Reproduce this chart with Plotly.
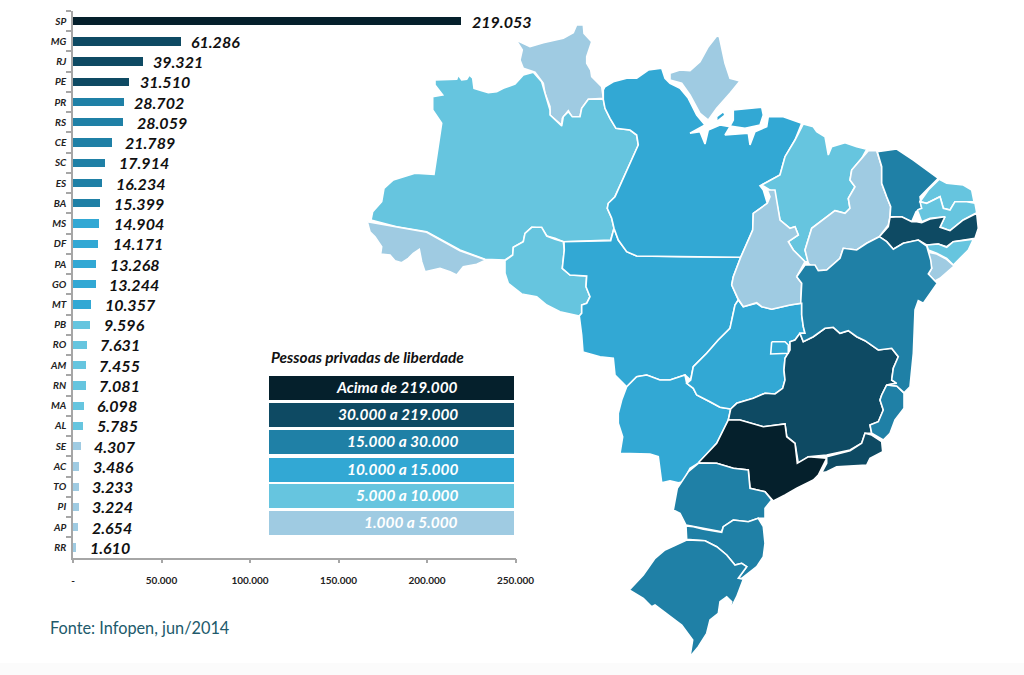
import plotly.graph_objects as go

# ---------- bar chart data ----------
STATES = ["SP","MG","RJ","PE","PR","RS","CE","SC","ES","BA","MS","DF","PA","GO","MT","PB","RO","AM","RN","MA","AL","SE","AC","TO","PI","AP","RR"]
PRISONERS = [219053,61286,39321,31510,28702,28059,21789,17914,16234,15399,14904,14171,13268,13244,10357,9596,7631,7455,7081,6098,5785,4307,3486,3233,3224,2654,1610]
X_TICKS = [0,50000,100000,150000,200000,250000]
X_TICK_TEXT = ["-","50.000","100.000","150.000","200.000","250.000"]

# ---------- legend ----------
LEGEND_TITLE = "Pessoas privadas de liberdade"
LEGEND_LABELS = ["Acima de 219.000","30.000 a 219.000","15.000 a 30.000","10.000 a 15.000","5.000 a 10.000","1.000 a 5.000"]
CLASS_COLORS = ["#05202c","#0e4a63","#1f80a6","#32a8d4","#66c5df","#9fcbe2"]
CLASS_FLOORS = [219000,30000,15000,10000,5000,0]
SOURCE = "Fonte: Infopen, jun/2014"

# ---------- map outlines (map units on a hidden axis) ----------
OUTLINES = {
"RR":[[(516,40),(523.3,43.3),(530,46.7),(543.3,42.7),(563.3,38.3),(573.3,32.7),(576.7,24.7),(583.3,25),(584,33.3),(591.7,41.7),(586.7,56.7),(586.7,63.3),(590.7,70),(591.7,76.7),(601.7,86.7),(603.3,98.3),(588.3,99.3),(581.7,108.3),(580,116.7),(571.7,116.7),(568.3,110.7),(562.3,118.3),(561.7,125),(550,115),(550,106.7),(545,93.3),(543.3,83.3),(535,72.3),(523.3,68.3),(520,60),(522.3,50)]],
"AM":[[(435,80),(456.7,79.3),(458.3,75),(461.7,80),(466.7,79.3),(469.3,75),(472.7,78.3),(474,88.3),(481.7,90.7),(488.3,92.7),(496.7,91.7),(503.3,88.3),(515,84),(523.3,75),(533.3,72.3),(541.7,81.7),(545,93.3),(550,110),(550,115),(561.7,126),(563.3,116.7),(568.3,111.7),(572.3,116.7),(580,116.7),(581.7,108.3),(588.3,99.3),(603.3,99.3),(605,108.3),(610,118.3),(616,128.3),(630,130),(636.7,135),(638.3,145),(633.3,156.7),(623.3,178.3),(615,196.7),(608.3,203.3),(607.3,208.3),(611.7,218.3),(614,228.3),(610.7,240),(563.3,241.7),(555,238.3),(546.7,236),(541.7,228.3),(531.7,227.3),(525,233.3),(523.3,241.7),(513.3,247.3),(512.7,255),(505,260),(485,259.3),(460,250),(426.7,231.7),(396.7,226.7),(371,220),(372.7,211.7),(381.7,201.7),(384,188.3),(393.3,180),(415,173.3),(434,174.3),(441.7,123.3),(432.7,110),(432.7,96.7),(442.7,95),(435,85)]],
"AC":[[(367.3,221.7),(396.7,227.3),(426.7,232.3),(460,250.7),(486,260),(476.7,264.3),(463.3,266.7),(456.7,275),(450,271.7),(440,268.3),(425,271.7),(421.7,261.7),(419.3,249.3),(413.3,253.3),(408.3,258.3),(401.7,262.7),(395,260.7),(390,255),(380.7,254),(381.7,246.7),(375,236.7),(370,231.7)]],
"RO":[[(505,260.7),(512.7,255),(513.3,247.3),(523.3,241.7),(525,233.3),(531.7,227.3),(541.7,227.3),(546.7,236),(555,239.3),(563.3,241.7),(564.3,250),(562.3,268.3),(570,275),(586.7,276),(586,286.7),(590,296.7),(586.7,303.3),(581.7,305),(581.7,313.3),(579.3,316),(560,311.7),(546.7,305),(536.7,296.7),(521.7,294),(508.3,283.3),(505,273.3)]],
"MT":[[(564,241.7),(610.7,240.7),(614,228.3),(618.3,240),(626.7,251.7),(636.7,256),(680,256.7),(740.7,257.3),(733.3,276.7),(731.7,285),(738.3,300),(735,305),(730,328.3),(718.3,340),(706.7,353.3),(693.3,366.7),(690.7,380),(685,375),(681.7,376),(670,380),(660,380),(646.7,375),(636.7,376.7),(626.7,386.7),(615,375),(613.3,358.3),(600,356.7),(583,352),(581.7,335),(579.3,316),(581.7,313.3),(581.7,305),(586.7,303.3),(590,296.7),(586,286.7),(586.7,276),(570,275),(562.3,268.3),(564.3,250)]],
"MS":[[(626.7,386.7),(636.7,376.7),(646.7,375),(660,380),(670,380),(681.7,376),(685,375),(686.7,383.3),(693.3,388.3),(696.7,395),(710,401.7),(720,407.3),(730.7,409),(728.3,420),(716.7,443.3),(698.3,463.3),(690,468.3),(683.3,481.7),(678.3,482.7),(670,480.7),(661.7,482.7),(658.3,456.7),(650,454),(620,453.3),(622.7,436.7),(618.3,423.3),(618.3,413.3),(621.7,400)]],
"GO":[[(738.3,300),(743.3,306.7),(756.7,303.3),(761.7,306.7),(771.7,309.3),(790,305),(801.7,303.3),(801.7,315),(803.3,326.7),(805,333.3),(800,333.3),(795,340),(790,341.7),(790,350),(785,358.3),(784,370),(785,380),(782.7,388.3),(775,394),(765,393.3),(753.3,398.3),(736.7,403.3),(730.7,409),(720,407.3),(710,401.7),(696.7,395),(693.3,388.3),(686.7,383.3),(690.7,380),(693.3,366.7),(706.7,353.3),(718.3,340),(730,328.3),(735,305)]],
"MG":[[(730.7,409),(736.7,403.3),(753.3,398.3),(765,393.3),(775,394),(782.7,388.3),(785,380),(784,370),(785,358.3),(790,350),(790,341.7),(795,340),(800,333.3),(803.3,341.7),(813.3,336.7),(825,328.3),(833.3,327.3),(840,333.3),(848.3,330.7),(856.7,336.7),(865,340.7),(878.3,350),(891.7,348.3),(898.3,356.7),(893.3,368.3),(891.7,380),(896.7,383.3),(886.7,385),(881.7,395),(880,400),(883.3,410),(878.3,421.7),(870,425),(871.7,433.3),(865,433.3),(861.7,443.3),(850,450),(826.7,455),(808.3,456.7),(798.3,463.3),(795,443.3),(786.7,436.7),(785,424),(763.3,426.7),(740,420),(728.3,420)]],
"SP":[[(698.3,462.7),(716.7,443.3),(728.3,420),(740,420),(763.3,426.7),(785,424),(786.7,436.7),(795,443.3),(797.3,463.3),(808.3,456.7),(826.7,458.3),(818.3,475),(813.3,480),(796.7,488.3),(785,495),(773.3,501),(765,491.7),(750,488.3),(748.3,470),(733.3,468.3),(716.7,463.3)]],
"RJ":[[(826.7,456.7),(850,450.7),(861.7,443.3),(865,433.3),(871.7,435),(881.7,441.7),(882.7,451.7),(870,458.3),(866.7,465),(850,465.7),(836.7,466.7),(826.7,471.7),(821.7,472.7),(826.7,463.3)]],
"ES":[[(886.7,385),(896.7,386),(904,393.3),(904,408.3),(895,420),(890,433.3),(883.3,440),(871.7,433.3),(870,425),(878.3,421.7),(883.3,410),(880,400),(881.7,395)]],
"PR":[[(698.3,463.3),(716.7,463.3),(733.3,468.3),(748.3,470),(750,488.3),(765,491.7),(771.7,500),(765,508.3),(765,518.3),(758.3,518.3),(748.3,521.7),(733.3,520),(723.3,526.7),(721.7,531.7),(703.3,528.3),(693.3,526),(686,525),(680,513.3),(673.3,510),(677.3,488.3),(688.3,471.7)]],
"SC":[[(686,526),(693.3,526.7),(703.3,529.3),(721.7,532.3),(723.3,526.7),(733.3,520),(748.3,521.7),(758.3,518.3),(763.3,526.7),(765,543.3),(763.3,556.7),(756.7,566.7),(741.7,578.3),(738.3,578.3),(746.7,566.7),(741.7,563.3),(735,565),(726.7,555),(716.7,546.7),(705,540.7),(686.7,539.3)]],
"RS":[[(686.7,540),(705,540.7),(716.7,546.7),(726.7,555),(735,565),(741.7,563.3),(746.7,566.7),(738.3,578.3),(743.3,579.3),(736.7,596.7),(728.3,613.3),(731.7,601.7),(726.7,596.7),(720,601.7),(718.3,613.3),(710,620),(706.7,633.3),(698.3,646.7),(690,656.7),(692.7,640),(681.7,625),(666.7,613.3),(655,605),(651.7,606.7),(643.3,598.3),(629.3,590),(643.3,575),(655,558.3),(665,550)]],
"PA":[[(605,86.7),(613.3,81.7),(626.7,78.3),(636.7,78.3),(648.3,70),(661.7,68.3),(665,78.3),(670,83.3),(680,88.3),(688.3,98.3),(696.7,115),(705,125),(690,133.3),(700,131.7),(705,144),(708.3,130),(720,125),(730,126.7),(725,135),(748.3,133.3),(750,145),(755,131.7),(766.7,126.7),(768.3,116.7),(783.3,116.7),(793.3,120),(801.7,123.3),(795,140),(785,156.7),(780,175),(760,185.7),(763.3,190),(767.3,203.3),(753.3,213.3),(752.7,230),(740.7,257.3),(680,256.7),(636.7,256),(626.7,251.7),(618.3,240),(614,228.3),(611.7,218.3),(607.3,208.3),(608.3,203.3),(615,196.7),(623.3,178.3),(633.3,156.7),(638.3,145),(636.7,135),(630,130),(616,128.3),(610,118.3),(605,108.3),(603.3,99.3),(603.3,90)],
      [(733.3,110),(761.7,107.3),(763.3,115),(760,125),(745,128.3),(730,126),(733.3,120)],
      [(716.7,116.7),(723.3,111.7),(725,115),(716.7,121.7)]],
"AP":[[(670,73.3),(680,70),(690,70.7),(700,61.7),(708.3,46.7),(716.7,36),(719.3,36.7),(725,63.3),(730,78.3),(740,81),(730,93.3),(716.7,108.3),(708.3,120),(700,113.3),(690,95),(681.7,83.3),(670,80)]],
"MA":[[(803.3,124),(813.3,126.7),(816.7,131.7),(825,136.7),(828.3,155),(831.7,146.7),(845,142.7),(856.7,146.7),(866.7,149.3),(861.7,158.3),(851.7,170),(850,180),(855,186.7),(848.3,198.3),(850,208.3),(845,213.3),(835,210.7),(811.7,228.3),(805,250),(808.3,261.7),(805,261.7),(793.3,250),(788.3,241.7),(798.3,235),(795,226.7),(790,228.3),(780,220),(776.7,203.3),(770,190),(761.7,185),(780,175),(785,156.7),(795,140)]],
"TO":[[(767.3,190),(775,190),(780,220),(790,228.3),(795,226.7),(798.3,235),(788.3,241.7),(793.3,250),(805,261.7),(796.7,276.7),(801.7,283.3),(800.7,303.3),(790,305),(771.7,309.3),(761.7,306.7),(756.7,302.7),(743.3,306.7),(738.3,299.3),(731.7,285),(733.3,276.7),(740.7,257.3),(752.7,230),(753.3,213.3),(767.3,203.3),(770,196.7)]],
"PI":[[(868.3,150.7),(876.7,150.7),(881.7,166.7),(881.7,183.3),(886.7,196.7),(890.7,206.7),(890,216.7),(888.3,225),(879.3,236.7),(866.7,243.3),(856.7,250),(843.3,248.3),(840,258.3),(826.7,270),(816.7,270.7),(808.3,263.3),(805,250),(811.7,228.3),(835,210.7),(845,213.3),(850,208.3),(848.3,198.3),(855,186.7),(850,180),(851.7,170),(861.7,158.3)]],
"CE":[[(877.3,151.7),(896.7,149),(913.3,160),(938.3,178.3),(928.3,188.3),(920,196.7),(921.7,208.3),(916,211.7),(911.7,221.7),(901.7,216.7),(890,216.7),(890.7,206.7),(886.7,196.7),(881.7,183.3),(881.7,166.7)]],
"RN":[[(939.3,179.3),(946.7,183.3),(963.3,185),(971.7,190),(974,201.7),(966.7,201.7),(955,201.7),(950,210),(943.3,208.3),(940,196.7),(930,201.7),(926.7,203.3),(920,201.7),(928.3,190)]],
"PB":[[(917.3,210),(921.7,208.3),(920,201.7),(926.7,203.3),(930,201.7),(940,196.7),(943.3,208.3),(950,210),(955,201.7),(966.7,201.7),(975,203.3),(976.7,212.7),(963.3,220),(950,230.7),(940,226.7),(945,216.7),(930,218.3),(921.7,221.7)]],
"PE":[[(879.3,236.7),(888.3,226.7),(890,217.3),(901.7,216.7),(911.7,221.7),(916.7,221.7),(921.7,222.7),(930,219),(945,216.7),(940,227.3),(950,230.7),(963.3,220),(976.7,213.3),(978.3,228.3),(975,238.3),(963.3,240),(953.3,241.7),(946.7,246.7),(938.3,244),(926.7,245),(918.3,240),(903.3,243.3),(893.3,249.3),(886.7,241.7)]],
"AL":[[(926.7,245),(938.3,244),(946.7,247.3),(953.3,241.7),(973.3,239.3),(968.3,250),(953.3,265),(946.7,258.3),(936.7,253.3),(928.3,250)]],
"SE":[[(928.3,252.3),(936.7,254),(946.7,259.3),(954,266),(940,278.3),(935,281),(928.3,274),(931.7,268.3),(930,260)]],
"BA":[[(796.7,276.7),(805,265),(815,265),(818.3,270.7),(826.7,270),(840,258.3),(843.3,248.3),(856.7,250),(866.7,243.3),(879.3,236.7),(886.7,241.7),(893.3,249.3),(903.3,243.3),(918.3,240),(926.7,246),(928.3,251.7),(930.7,260),(931.7,268.3),(928.3,274),(935,281),(937.3,283.3),(923.3,303.3),(918.3,300.7),(915,310),(913.3,353.3),(910,386.7),(904,392.7),(896.7,386),(886.7,385),(896.7,383.3),(891.7,380),(893.3,368.3),(898.3,356.7),(891.7,348.3),(878.3,350),(865,340.7),(856.7,336.7),(848.3,330.7),(840,333.3),(833.3,327.3),(825,328.3),(813.3,336.7),(803.3,341.7),(800,333.3),(805,333.3),(803.3,326.7),(801.7,315),(801.7,303.3),(800.7,303.3),(801.7,283.3)]],
"DF":[[(771.7,341.7),(785,341.7),(788.3,345),(788.3,353.3),(770.7,354)]],
}

# ---------- small per-label nudges (pixels) as in the original artwork ----------
LABEL_SHIFT = [9,8,8,9,8,12,11,12,12,12,13,13,12,11,12,12,11,11,11,11,12,11,12,11,11,12,12]


def class_color(v):
    for floor, col in zip(CLASS_FLOORS, CLASS_COLORS):
        if v >= floor:
            return col
    return CLASS_COLORS[-1]


def fmt(v):
    return f"{v:,}".replace(",", ".")


W, H = 1024, 675
AXIS_L, AXIS_R, AXIS_T, AXIS_B = 73, 515.5, 11, 557.5
FONT = "Lato"
VALUE = dict(zip(STATES, PRISONERS))

fig = go.Figure()

fig.add_trace(go.Bar(
    y=STATES, x=PRISONERS, orientation="h",
    marker=dict(color=[class_color(v) for v in PRISONERS], line_width=0),
    width=0.41, xaxis="x", yaxis="y", hoverinfo="skip", showlegend=False,
))

# choropleth drawn from the outlines, coloured by each state's value
for uf, parts in OUTLINES.items():
    xs, ys = [], []
    for part in parts:
        xs += [p[0] for p in part] + [part[0][0], None]
        ys += [p[1] for p in part] + [part[0][1], None]
    fig.add_trace(go.Scatter(
        x=xs, y=ys, mode="lines", fill="toself", fillcolor=class_color(VALUE[uf]),
        line=dict(color="#ffffff", width=1.6), xaxis="x2", yaxis="y2",
        hoverinfo="skip", showlegend=False, name=uf,
    ))

annotations = []
for uf, v, dx in zip(STATES, PRISONERS, LABEL_SHIFT):
    annotations.append(dict(
        x=v, y=uf, xref="x", yref="y", text=fmt(v), showarrow=False,
        xanchor="left", yanchor="middle", xshift=dx, yshift=0,
        font=dict(family=FONT, size=16, color="#111111", style="italic", weight=700),
    ))

LEG_TOPS = [376, 403, 430, 458, 484, 511]
LEG_H = 24
shapes = [dict(type="rect", xref="paper", yref="paper", x0=0, x1=1, y0=0, y1=1 - 663 / H,
               fillcolor="#fbfbfb", line_width=0, layer="below")]
for top, label, col in zip(LEG_TOPS, LEGEND_LABELS, CLASS_COLORS):
    shapes.append(dict(type="rect", xref="x2", yref="y2", x0=269, x1=514, y0=top, y1=top + LEG_H,
                       fillcolor=col, line_width=0, layer="above"))
    annotations.append(dict(
        x=459.5, y=top + LEG_H / 2 - 1, xref="x2", yref="y2", text=label, showarrow=False,
        xanchor="right", yanchor="middle",
        font=dict(family=FONT, size=15.4, color="#ffffff", style="italic", weight=700),
    ))

annotations.append(dict(
    x=269, y=357, xref="x2", yref="y2", text=LEGEND_TITLE, showarrow=False,
    xanchor="left", yanchor="middle",
    font=dict(family=FONT, size=15.4, color="#111111", style="italic", weight=700),
))
annotations.append(dict(
    x=48, y=627, xref="x2", yref="y2", text=SOURCE, showarrow=False,
    xanchor="left", yanchor="middle",
    font=dict(family=FONT, size=16.3, color="#215a6b"),
))

fig.update_layout(
    width=W, height=H, margin=dict(l=0, r=0, t=0, b=0, autoexpand=False),
    paper_bgcolor="#ffffff", plot_bgcolor="rgba(0,0,0,0)",
    showlegend=False, bargap=0, annotations=annotations, shapes=shapes,
    font=dict(family=FONT),
    xaxis=dict(
        domain=[AXIS_L / W, AXIS_R / W], range=[0, 250000], anchor="y",
        tickmode="array", tickvals=X_TICKS, ticktext=X_TICK_TEXT,
        showgrid=False, zeroline=False, showline=True, linecolor="#a6a6a6", linewidth=1.5,
        ticks="outside", ticklen=4, tickcolor="#a6a6a6", tickwidth=1.5, ticklabelstandoff=9,
        tickfont=dict(family=FONT, size=10, color="#222222", weight=700),
    ),
    yaxis=dict(
        domain=[1 - AXIS_B / H, 1 - AXIS_T / H], type="category", anchor="x",
        categoryorder="array", categoryarray=STATES,
        range=[len(STATES) - 0.5, -0.5], tickson="boundaries",
        showgrid=False, zeroline=False, showline=True, linecolor="#a6a6a6", linewidth=1.5,
        ticks="outside", ticklen=5, tickcolor="#a6a6a6", tickwidth=1.5, ticklabelstandoff=3,
        tickfont=dict(family=FONT, size=10, color="#222222", style="italic", weight=700),
    ),
    xaxis2=dict(domain=[0, 1], range=[0, W], anchor="y2", visible=False, fixedrange=True),
    yaxis2=dict(domain=[0, 1], range=[H, 0], anchor="x2", visible=False, fixedrange=True),
)

fig.write_html("out.html", config={"displayModeBar": False},
               post_script="document.body.style.margin='0';document.body.style.overflow='hidden';")
